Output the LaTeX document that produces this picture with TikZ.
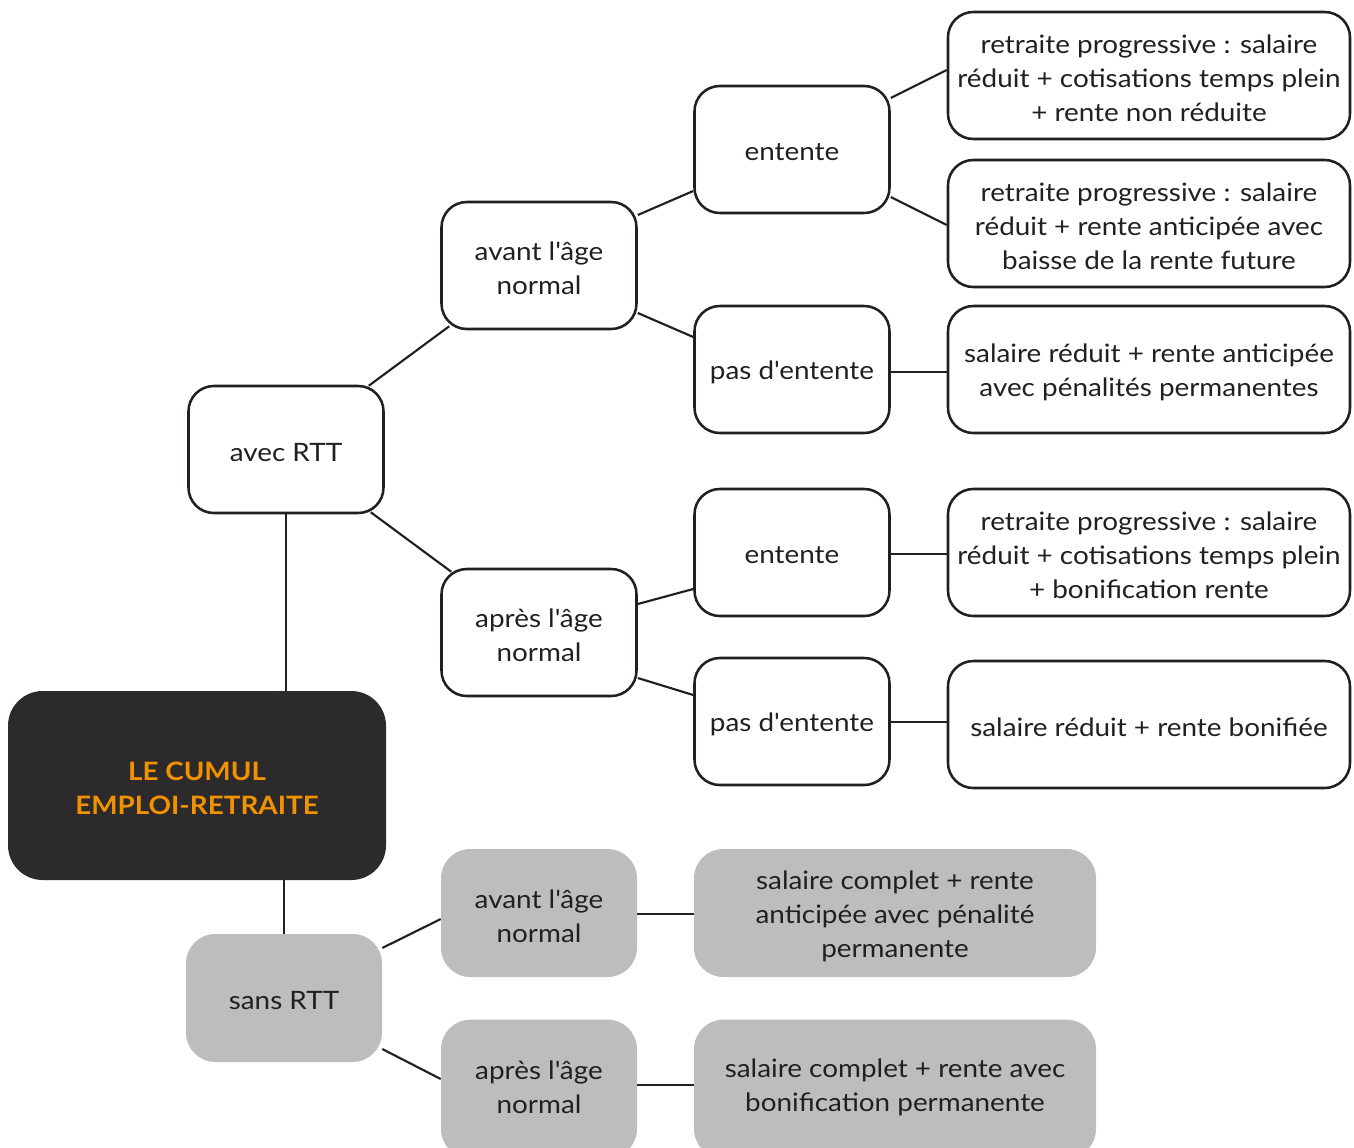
\documentclass[tikz,border=0pt]{standalone}
\usepackage{fontspec}
\setmainfont{Lato}[FakeStretch=1.1]
\usetikzlibrary{backgrounds,calc}
\definecolor{ink}{HTML}{231F20}
\definecolor{darkbox}{HTML}{2D2A2B}
\definecolor{orangetxt}{HTML}{F39200}
\definecolor{graybox}{HTML}{BCBDBC}
\newcommand\apos{\textquotesingle}
\begin{document}
\begin{tikzpicture}[x=0.75pt,y=-0.75pt,
  txt/.style={align=center,inner sep=0pt,text=ink,
    font=\fontsize{19}{25.5}\selectfont,yshift=-2.25pt},
  roottxt/.style={txt,text=orangetxt,font=\fontsize{19}{25.5}\selectfont\bfseries},
  base/.style={rectangle,inner sep=0pt},
  outl/.style={base,draw=ink,line width=1.9pt,fill=white,rounded corners=19pt},
  smallbox/.style={outl,minimum width=146.25pt,minimum height=95.25pt},
  leafbox/.style={outl,minimum width=301.5pt,minimum height=95.25pt},
  greybox/.style={base,fill=graybox,rounded corners=22pt,minimum width=147pt,minimum height=96pt},
  greyleaf/.style={base,fill=graybox,rounded corners=22pt,minimum width=301.5pt,minimum height=96pt},
  rootbox/.style={base,fill=darkbox,rounded corners=26pt,minimum width=283.5pt,minimum height=141.75pt},
  conn/.style={draw=ink,line width=1.6pt}]
\useasboundingbox (0,0) rectangle (1354,1147);
% root
\node[rootbox,label={[roottxt]center:{LE CUMUL\\EMPLOI-RETRAITE}}] (root) at (197,785.5) {};
% avec RTT branch
\node[smallbox,label={[txt]center:{avec RTT}}] (avec) at (286,449.5) {};
\node[smallbox,label={[txt]center:{avant l\apos âge\\normal}}] (avant) at (539,265.5) {};
\node[smallbox,label={[txt]center:{après l\apos âge\\normal}}] (apres) at (539,632.5) {};
\node[smallbox,label={[txt]center:{entente}}] (e1) at (792,149.5) {};
\node[smallbox,label={[txt]center:{pas d\apos entente}}] (p1) at (792,369.5) {};
\node[smallbox,label={[txt]center:{entente}}] (e2) at (792,552.5) {};
\node[smallbox,label={[txt]center:{pas d\apos entente}}] (p2) at (792,721.5) {};
\node[leafbox,label={[txt]center:{retraite progressive : salaire\\réduit + cotisations temps plein\\+ rente non réduite}}] (l1) at (1149,75.5) {};
\node[leafbox,label={[txt]center:{retraite progressive : salaire\\réduit + rente anticipée avec\\baisse de la rente future}}] (l2) at (1149,223.5) {};
\node[leafbox,label={[txt]center:{salaire réduit + rente anticipée\\avec pénalités permanentes}}] (l3) at (1149,369.5) {};
\node[leafbox,label={[txt]center:{retraite progressive : salaire\\réduit + cotisations temps plein\\+ bonification rente}}] (l4) at (1149,552.5) {};
\node[leafbox,label={[txt]center:{salaire réduit + rente bonifiée}}] (l5) at (1149,724.5) {};
% sans RTT branch
\node[greybox,label={[txt]center:{sans RTT}}] (sans) at (284,998) {};
\node[greybox,label={[txt]center:{avant l\apos âge\\normal}}] (gavant) at (539,913) {};
\node[greybox,minimum height=104pt] (gapres) at (539,1089) {};
\node[txt] (gapresT) at (539,1084) {après l\apos âge\\normal};
\node[greyleaf,label={[txt]center:{salaire complet + rente\\anticipée avec pénalité\\permanente}}] (g1) at (895,913) {};
\node[greyleaf,minimum height=104pt] (g2) at (895,1089) {};
\node[txt] (g2T) at (895,1084) {salaire complet + rente avec\\bonification permanente};
% connectors
\begin{scope}[on background layer]
\draw[conn] (avec.south) -- (avec.south |- root.north);
\draw[conn] (sans.north |- root.south) -- (sans.north);
\draw[conn] ($(avec.north east)+(-16,1)$) -- ($(avant.south west)+(9,-4)$);
\draw[conn] ($(avec.south east)+(-14,-2)$) -- ($(apres.north west)+(11,4)$);
\draw[conn] (avant.east |- 0,215) -- (e1.west |- 0,191);
\draw[conn] (avant.east |- 0,313) -- (p1.west |- 0,337);
\draw[conn] (apres.east |- 0,604) -- (e2.west |- 0,589);
\draw[conn] (apres.east |- 0,678) -- (p2.west |- 0,695);
\draw[conn] (e1.east |- 0,98) -- (l1.west |- 0,70);
\draw[conn] (e1.east |- 0,197) -- (l2.west |- 0,225);
\draw[conn] (p1.east |- 0,372) -- (l3.west |- 0,372);
\draw[conn] (e2.east |- 0,554) -- (l4.west |- 0,554);
\draw[conn] (p2.east |- 0,722) -- (l5.west |- 0,722);
\draw[conn] (sans.east |- 0,948) -- (gavant.west |- 0,919);
\draw[conn] (sans.east |- 0,1049) -- (gapres.west |- 0,1079);
\draw[conn] (gavant.east |- 0,914) -- (g1.west |- 0,914);
\draw[conn] (gapres.east |- 0,1085) -- (g2.west |- 0,1085);
\end{scope}
\end{tikzpicture}
\end{document}
